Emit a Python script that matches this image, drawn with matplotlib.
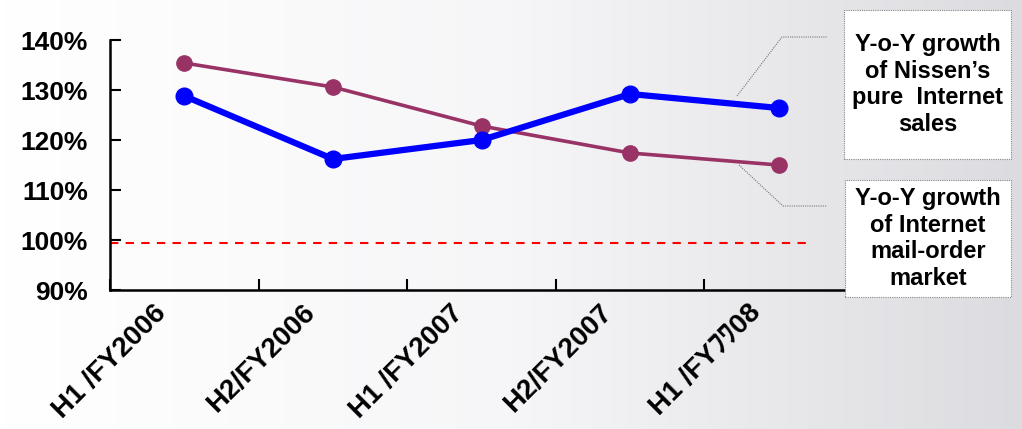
import numpy as np
import matplotlib
matplotlib.use("Agg")
import matplotlib.pyplot as plt
import matplotlib.transforms as mtransforms
from matplotlib.colors import LinearSegmentedColormap
from matplotlib.patches import Rectangle

plt.rcParams['font.family'] = ['Liberation Sans', 'Noto Sans CJK JP', 'DejaVu Sans']

categories = ["H1 /FY2006", "H2/FY2006", "H1 /FY2007", "H2/FY2007", "H1 /FYﾌﾜ08"]
nissen_internet = [128.8, 116.2, 120.0, 129.2, 126.4]
market_internet = [135.4, 130.6, 122.8, 117.4, 115.0]
y_ticks = [90, 100, 110, 120, 130, 140]
baseline = 99.5
label_nissen = "Y-o-Y growth\nof Nissen’s\npure  Internet\nsales"
label_market = "Y-o-Y growth\nof Internet\nmail-order\nmarket"

W, H = 1022, 429
fig = plt.figure(figsize=(W / 100, H / 100), dpi=100)

# background gradient
bg = fig.add_axes([0, 0, 1, 1], zorder=-10)
grad = np.linspace(0, 1, 256).reshape(1, -1)
cmap = LinearSegmentedColormap.from_list("bg", ["#ffffff", "#f6f6f8", "#dcdce0"])
bg.imshow(grad, aspect="auto", cmap=cmap, extent=[0, 1, 0, 1])
bg.axis("off")

ax = fig.add_axes([110 / W, (H - 290) / H, (853 - 110) / W, 250 / H])
ax.patch.set_alpha(0)
x = np.arange(len(categories))

ax.axhline(baseline, xmin=0, xmax=(807 - 110) / (853 - 110), color="#ff0000",
           lw=1.5, ls=(0, (4, 3.5)), zorder=2)
ax.plot(x, market_internet, color="#993366", lw=2.6, marker="o", ms=11, zorder=3)
ax.plot(x, nissen_internet, color="#0000ff", lw=4.5, marker="o", ms=12, zorder=4)

ax.set_xlim(-0.5, len(categories) - 0.5)
ax.set_ylim(90, 140)
ax.set_yticks(y_ticks)
ax.set_yticklabels([f"{v}%" for v in y_ticks], fontsize=19, fontweight="bold")
ax.set_xticks(np.arange(-0.5, len(categories), 1.0))
ax.set_xticklabels([])
ax.set_xticks(x, minor=True)
ax.set_xticklabels(categories, minor=True, rotation=45, ha="right",
                   rotation_mode="anchor", fontsize=20, fontweight="bold")
ax.tick_params(axis="x", which="minor", length=0, pad=10)
ax.tick_params(axis="both", which="major", direction="in", length=8, width=1.5)
ax.tick_params(axis="y", pad=16)
offset = mtransforms.ScaledTranslation(-22 / 100, -5 / 100, fig.dpi_scale_trans)
for lab in ax.get_xticklabels(minor=True):
    lab.set_va("center")
    lab.set_transform(lab.get_transform() + offset)
for s in ["top", "right"]:
    ax.spines[s].set_visible(False)
for s in ["left", "bottom"]:
    ax.spines[s].set_linewidth(1.8)

def fx(px):
    return px / W

def fy(py):
    return 1 - py / H

# leader lines
fig.add_artist(plt.Line2D([fx(737), fx(782), fx(827)], [fy(96), fy(37), fy(37)],
                          color="#777777", lw=0.8, ls=(0, (1, 1))))
fig.add_artist(plt.Line2D([fx(739), fx(783), fx(827)], [fy(165), fy(206), fy(206)],
                          color="#777777", lw=0.8, ls=(0, (1, 1))))

# label boxes
for (x0, y0, x1, y1, txt) in [(844, 10, 1011, 159, label_nissen),
                              (845, 180, 1011, 297, label_market)]:
    r = Rectangle((fx(x0), fy(y1)), fx(x1) - fx(x0), fy(y0) - fy(y1),
                  transform=fig.transFigure, facecolor="white",
                  edgecolor="#888888", lw=0.8, ls=(0, (1, 1)), zorder=5)
    fig.add_artist(r)
    fig.text(fx((x0 + x1) / 2), fy((y0 + y1) / 2), txt, ha="center", va="center",
             fontsize=17, fontweight="bold", linespacing=1.2, zorder=6)

fig.savefig("out.png", dpi=100)
